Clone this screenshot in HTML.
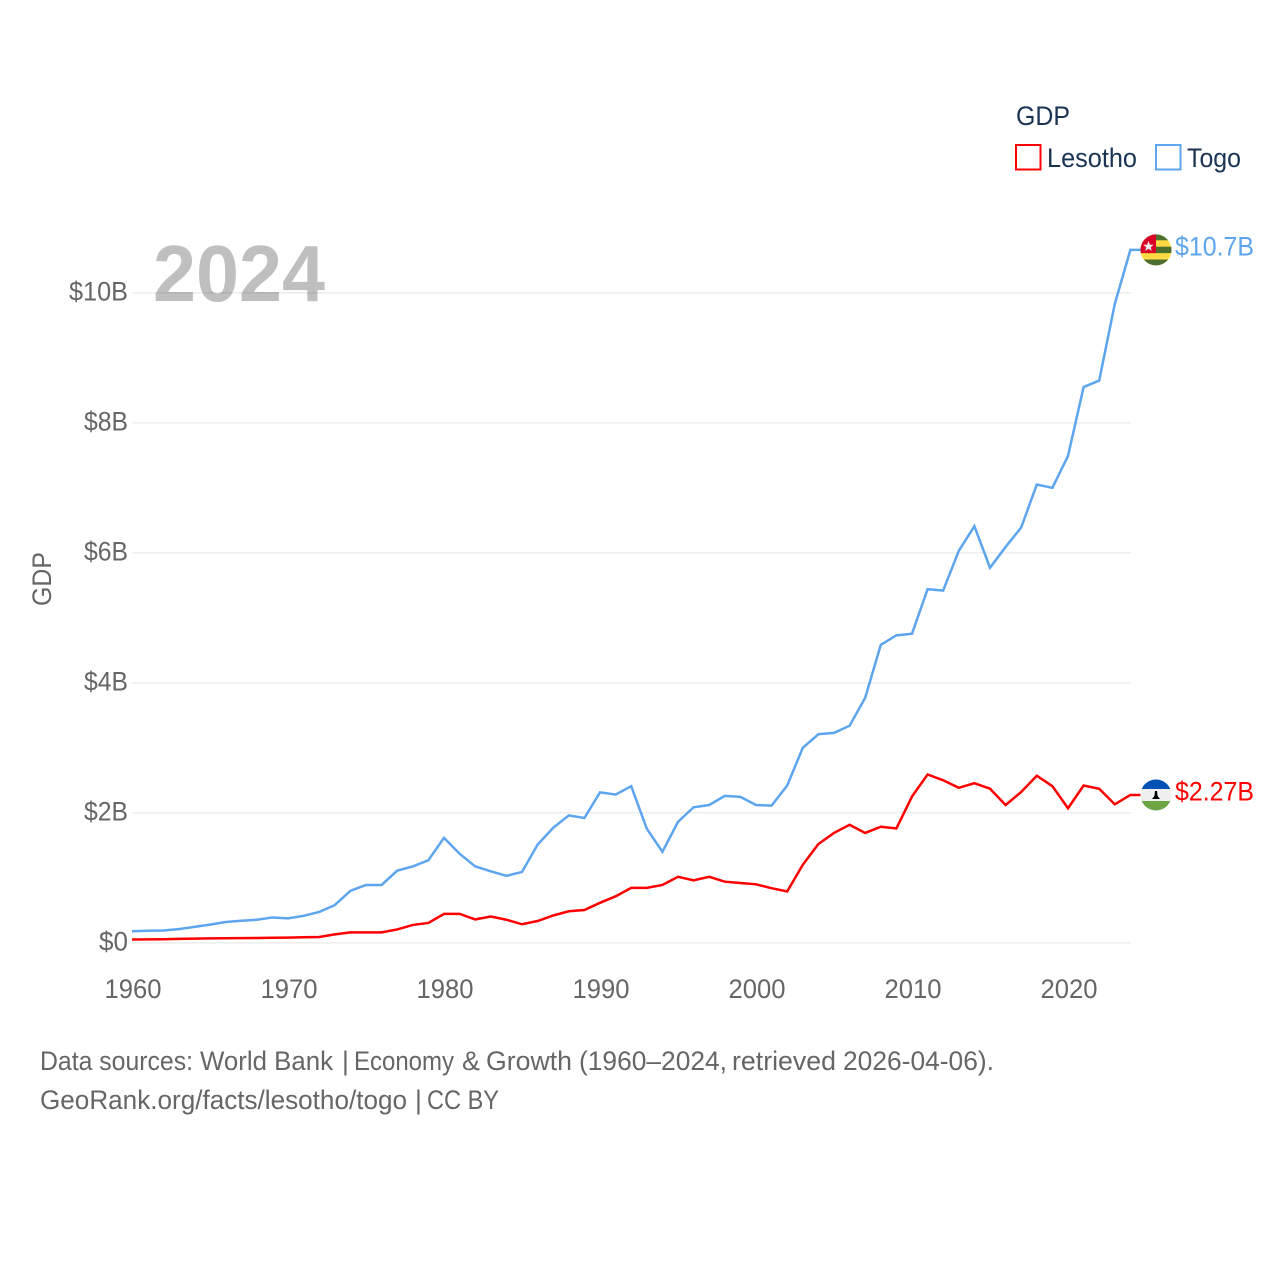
<!DOCTYPE html>
<html lang="en">
<head>
<meta charset="utf-8">
<title>GDP: Lesotho and Togo</title>
<style>
html,body{margin:0;padding:0;background:#fff;}
svg{display:block;font-family:"Liberation Sans",sans-serif;}
</style>
</head>
<body>
<svg id="chart" xmlns="http://www.w3.org/2000/svg" width="1280" height="1280" viewBox="0 0 1280 1280">
  <rect x="0" y="0" width="1280" height="1280" fill="#fff"/>
  <g id="grid"></g>
  <g id="yticks"></g>
  <g id="xticks"></g>
  <text transform="translate(51,606) rotate(-90)" font-size="26.5" fill="#666" textLength="54" lengthAdjust="spacingAndGlyphs">GDP</text>
  <g id="series"></g>
  <text x="153" y="301" font-size="80" font-weight="700" fill="#000" fill-opacity="0.25" textLength="172" lengthAdjust="spacingAndGlyphs">2024</text>

  <g>
    <text x="1016" y="125" font-size="26.5" fill="#1a3353" textLength="54" lengthAdjust="spacingAndGlyphs">GDP</text>
    <g>
      <rect x="1016" y="145" width="24.5" height="24.5" fill="none" stroke="#ff0000" stroke-width="2"/>
      <text x="1047" y="167" font-size="26.5" fill="#1a3353" textLength="90" lengthAdjust="spacingAndGlyphs">Lesotho</text>
    </g>
    <g>
      <rect x="1156" y="145" width="24.5" height="24.5" fill="none" stroke="#5da5ee" stroke-width="2"/>
      <text x="1187" y="167" font-size="26.5" fill="#1a3353" textLength="54" lengthAdjust="spacingAndGlyphs">Togo</text>
    </g>
  </g>

  <defs>
    <clipPath id="flag-clip"><circle cx="0" cy="0" r="15.5"/></clipPath>
  </defs>
  <g id="flag-togo">
    <g clip-path="url(#flag-clip)">
      <rect x="-16" y="-16" width="32" height="32" fill="#ffda44"/>
      <rect x="-16" y="-16" width="32" height="6.4" fill="#496e2d"/>
      <rect x="-16" y="-3.2" width="32" height="6.4" fill="#496e2d"/>
      <rect x="-16" y="9.6" width="32" height="6.4" fill="#496e2d"/>
      <rect x="-16" y="-16" width="16" height="19.2" fill="#d80027"/>
      <polygon points="-7.5,-9 -6.1,-5.1 -2.2,-5.1 -5.3,-2.7 -4.2,1 -7.5,-1.2 -10.8,1 -9.7,-2.7 -12.8,-5.1 -8.9,-5.1" fill="#f0f0f0"/>
    </g>
  </g>
  <g id="flag-lesotho">
    <g clip-path="url(#flag-clip)">
      <rect x="-16" y="-16" width="32" height="32" fill="#f0f0f0"/>
      <rect x="-16" y="-16" width="32" height="10" fill="#0052b4"/>
      <rect x="-16" y="6" width="32" height="10" fill="#6da544"/>
      <polygon points="-1,-4 1,-4 1.6,1 4,4 -4,4 -1.6,1" fill="#000"/>
    </g>
  </g>
  <g id="end-labels"></g>

  <text y="1070" font-size="26.5" fill="#666"><tspan x="40" textLength="153" lengthAdjust="spacingAndGlyphs">Data sources:</tspan> <tspan x="200" textLength="133" lengthAdjust="spacingAndGlyphs">World Bank</tspan> <tspan x="342">|</tspan> <tspan x="354" textLength="100" lengthAdjust="spacingAndGlyphs">Economy</tspan> <tspan x="462" textLength="18" lengthAdjust="spacingAndGlyphs">&amp;</tspan> <tspan x="486" textLength="86" lengthAdjust="spacingAndGlyphs">Growth</tspan> <tspan x="579" textLength="148" lengthAdjust="spacingAndGlyphs">(1960–2024,</tspan> <tspan x="732" textLength="104" lengthAdjust="spacingAndGlyphs">retrieved</tspan> <tspan x="843" textLength="151" lengthAdjust="spacingAndGlyphs">2026-04-06).</tspan></text>
  <text y="1109" font-size="26.5" fill="#666"><tspan x="40" textLength="367" lengthAdjust="spacingAndGlyphs">GeoRank.org/facts/lesotho/togo</tspan> <tspan x="415">|</tspan> <tspan x="427" textLength="72" lengthAdjust="spacingAndGlyphs">CC BY</tspan></text>
</svg>
<script>
const startYear = 1960;
const yTickValues = [0, 2, 4, 6, 8, 10];
const yTickLabels = ["$0", "$2B", "$4B", "$6B", "$8B", "$10B"];
const xTickYears = [1960, 1970, 1980, 1990, 2000, 2010, 2020];
const lesothoGdp = [0.05,0.052,0.054,0.06,0.065,0.068,0.07,0.071,0.074,0.077,0.08,0.086,0.09,0.13,0.16,0.16,0.16,0.205,0.275,0.305,0.445,0.445,0.36,0.405,0.355,0.285,0.335,0.42,0.485,0.505,0.615,0.715,0.845,0.845,0.89,1.015,0.96,1.015,0.94,0.92,0.9,0.84,0.79,1.2,1.52,1.69,1.815,1.69,1.785,1.76,2.25,2.59,2.5,2.385,2.455,2.37,2.12,2.32,2.57,2.41,2.07,2.42,2.37,2.13,2.274];
const togoGdp = [0.177,0.185,0.19,0.21,0.245,0.28,0.32,0.34,0.355,0.39,0.375,0.415,0.475,0.58,0.8,0.89,0.89,1.11,1.175,1.27,1.615,1.37,1.175,1.1,1.03,1.09,1.51,1.77,1.96,1.92,2.315,2.28,2.41,1.755,1.4,1.86,2.085,2.12,2.26,2.245,2.12,2.11,2.42,3.0,3.21,3.23,3.34,3.77,4.585,4.73,4.755,5.44,5.42,6.03,6.41,5.77,6.09,6.39,7.05,7.0,7.49,8.55,8.65,9.83,10.66];

const NS = "http://www.w3.org/2000/svg";
const xScale = year => 132 + (year - 1960) * 15.6;
const yScale = value => 942.8 - value * 65;
const fmtValue = value => "$" + value.toPrecision(3) + "B";
const make = (tag, parentId) => {
  const el = document.createElementNS(NS, tag);
  document.getElementById(parentId).appendChild(el);
  return el;
};
const tickWidth = label => label.length === 2 ? 29 : label.length === 3 ? 44 : 59;

yTickValues.forEach((value, i) => {
  const line = make("line", "grid");
  
  
  line.setAttribute("x1", 132);
  line.setAttribute("x2", 1131);
  line.setAttribute("y1", yScale(value));
  line.setAttribute("y2", yScale(value));
  line.setAttribute("stroke", "#eeeeee");
  line.setAttribute("stroke-width", "1.6");

  const label = make("text", "yticks");
  
  
  label.textContent = yTickLabels[i];
  label.setAttribute("x", 128 - tickWidth(yTickLabels[i]));
  label.setAttribute("y", yScale(value) + 7.7);
  label.setAttribute("font-size", "26.5");
  label.setAttribute("fill", "#666");
  label.setAttribute("textLength", tickWidth(yTickLabels[i]));
  label.setAttribute("lengthAdjust", "spacingAndGlyphs");
});

xTickYears.forEach(year => {
  const label = make("text", "xticks");
  
  
  label.textContent = String(year);
  label.setAttribute("x", xScale(year) - 27.5);
  label.setAttribute("y", 998);
  label.setAttribute("font-size", "26.5");
  label.setAttribute("fill", "#666");
  label.setAttribute("textLength", "57");
  label.setAttribute("lengthAdjust", "spacingAndGlyphs");
});

function drawSeries(values, color, flagId) {
  const lastValue = values[values.length - 1];
  const lastYear = startYear + values.length - 1;
  const pts = values.map((v, i) => xScale(startYear + i).toFixed(2) + "," + yScale(v).toFixed(2));
  pts.push((xScale(lastYear) + 10).toFixed(2) + "," + yScale(lastValue).toFixed(2));
  const path = make("polyline", "series");
  
  
  path.setAttribute("points", pts.join(" "));
  path.setAttribute("fill", "none");
  path.setAttribute("stroke", color);
  path.setAttribute("stroke-width", "2.5");
  path.setAttribute("stroke-linejoin", "miter");

  document.getElementById(flagId).setAttribute("transform", "translate(1156," + yScale(lastValue) + ")");

  const label = make("text", "end-labels");
  
  
  label.textContent = fmtValue(lastValue);
  label.setAttribute("x", 1175);
  label.setAttribute("y", yScale(lastValue) + 5.7);
  label.setAttribute("font-size", "26.5");
  label.setAttribute("fill", color);
  label.setAttribute("textLength", "79");
  label.setAttribute("lengthAdjust", "spacingAndGlyphs");
}
drawSeries(lesothoGdp, "#ff0000", "flag-lesotho");
drawSeries(togoGdp, "#5da5ee", "flag-togo");
</script>
</body>
</html>
